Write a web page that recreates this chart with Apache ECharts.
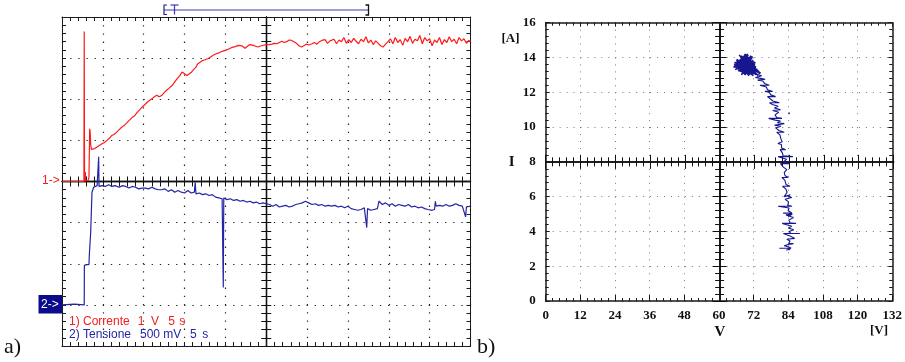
<!DOCTYPE html>
<html><head><meta charset="utf-8">
<script src="https://cdn.jsdelivr.net/npm/echarts@6/dist/echarts.min.js"></script>
<style>html,body{margin:0;padding:0;background:#fff}#c{width:905px;height:362px}</style>
</head><body><div id="c"></div><script>
// ---------- DATA ----------
// Channel 1 (Corrente), [time s, volts]  (1 V/div, 5 s/div)
const redTrace = [[0,0],[2.68,0],[2.72,3.65],[2.76,0],[2.8,0.05],[2.85,0.23],[2.9,0.02],[3.2,0.02],[3.3,0.1],[3.39,1.28],[3.45,1.2],[3.51,0.9],[3.6,0.78],[3.76,0.75],
[4.0,0.8],[4.3,0.84],[4.6,0.88],[4.9,0.92],[5.2,0.95],[5.5,1.0],[5.8,1.05],[6.1,1.12],[6.4,1.15],[6.7,1.2],[7.0,1.26],[7.3,1.32],[7.6,1.36],[7.9,1.42],[8.2,1.48],[8.6,1.56],[8.9,1.6],[9.2,1.68],[9.5,1.74],[9.8,1.81],[10.1,1.86],[10.4,1.92],[10.7,1.97],[11.0,2.01],[11.3,2.06],[11.6,2.1],[11.9,2.06],[12.2,2.09],[12.5,2.16],[12.8,2.22],[13.1,2.27],[13.5,2.34],[13.8,2.42],[14.1,2.5],[14.4,2.57],[14.7,2.66],[15.0,2.62],[15.3,2.58],[15.5,2.57],[15.8,2.65],[16.1,2.72],[16.4,2.78],[16.6,2.86],[16.9,2.9],[17.2,2.94],[17.5,2.96],[17.9,2.99],[18.2,3.03],[18.5,3.07],[18.8,3.1],[19.1,3.12],[19.4,3.15],[19.7,3.17],[20.0,3.19],[20.4,3.22],[20.8,3.26],[21.2,3.28],[21.6,3.31],[22.0,3.3],[22.4,3.24],[22.7,3.29],[23.0,3.33],[23.4,3.31],[23.7,3.29],[24.0,3.27],[24.4,3.3],[24.8,3.32],[25.3,3.33],[25.7,3.34],[26.0,3.36],[26.3,3.35],[26.6,3.38],[26.9,3.41],[27.2,3.38],[27.5,3.4],[27.8,3.44],[28.1,3.43],[28.4,3.4],[28.7,3.36],[29.0,3.3],[29.3,3.27],[29.6,3.3],[29.9,3.34],[30.2,3.32],[30.6,3.35],[30.9,3.38],[31.2,3.34],[31.5,3.4],[31.8,3.43],[32.2,3.45],[32.5,3.36],[32.8,3.42],[33.0,3.39],[33.3,3.46],[33.6,3.35],[33.9,3.44],[34.2,3.4],[34.5,3.5],[34.8,3.36],[35.1,3.45],[35.4,3.38],[35.7,3.48],[36.0,3.41],[36.3,3.35],[36.6,3.46],[36.9,3.4],[37.2,3.52],[37.5,3.37],[37.8,3.44],[38.1,3.33],[38.4,3.42],[38.7,3.36],[39.0,3.3],[39.3,3.27],[39.6,3.34],[39.9,3.4],[40.2,3.47],[40.5,3.35],[40.8,3.5],[41.1,3.38],[41.4,3.45],[41.7,3.31],[42.0,3.48],[42.3,3.4],[42.6,3.53],[42.9,3.36],[43.2,3.46],[43.5,3.42],[43.8,3.55],[44.1,3.35],[44.4,3.5],[44.7,3.42],[45.0,3.47],[45.3,3.3],[45.6,3.44],[45.9,3.38],[46.2,3.5],[46.5,3.33],[46.8,3.45],[47.1,3.38],[47.4,3.52],[47.7,3.4],[48.0,3.46],[48.3,3.35],[48.6,3.5],[48.9,3.42],[49.2,3.47],[49.5,3.36],[49.8,3.43],[50,3.4]];

// Channel 2 (Tensione), [time s, volts]  (500 mV/div, 5 s/div)
const blueTrace = [[0,0],[1.5,0.01],[2.72,0],[2.74,0.48],[3.0,0.49],[3.3,0.49],[3.34,0.6],[3.51,0.88],[3.67,1.37],[3.88,1.43],[4.1,1.44],[4.3,1.45],[4.45,1.44],[4.49,1.8],[4.53,1.44],[4.9,1.45],[5.3,1.44],[5.7,1.46],[6.1,1.44],[6.5,1.45],[7.0,1.43],[7.4,1.45],[7.8,1.44],[8.2,1.42],[8.6,1.44],[9.0,1.43],[9.4,1.41],[9.8,1.42],[10.2,1.42],[10.6,1.41],[11.0,1.43],[11.4,1.41],[11.8,1.4],[12.2,1.4],[12.6,1.41],[13.0,1.38],[13.4,1.4],[13.8,1.37],[14.2,1.39],[14.6,1.37],[15.0,1.36],[15.4,1.39],[15.8,1.36],[16.2,1.37],[16.3,1.49],[16.4,1.35],[16.8,1.36],[17.2,1.34],[17.6,1.35],[18.0,1.33],[18.4,1.34],[18.8,1.31],[19.2,1.3],[19.6,1.29],[19.74,0.21],[19.8,1.3],[20.2,1.28],[20.6,1.29],[21.0,1.27],[21.4,1.28],[21.8,1.26],[22.2,1.27],[22.6,1.25],[23.0,1.26],[23.4,1.24],[23.8,1.25],[24.2,1.23],[24.6,1.24],[25.0,1.23],[25.4,1.22],[25.8,1.2],[26.2,1.22],[26.6,1.19],[27.0,1.2],[27.4,1.21],[27.8,1.19],[28.2,1.2],[28.6,1.22],[29.0,1.23],[29.4,1.24],[29.8,1.26],[30.2,1.24],[30.6,1.22],[31.0,1.23],[31.4,1.21],[31.8,1.22],[32.2,1.2],[32.6,1.21],[33.0,1.2],[33.4,1.21],[33.8,1.19],[34.2,1.2],[34.6,1.18],[35.0,1.2],[35.4,1.17],[35.8,1.16],[36.2,1.15],[36.6,1.16],[37.0,1.18],[37.3,0.94],[37.4,1.17],[37.8,1.15],[38.2,1.16],[38.6,1.17],[38.8,1.26],[39.2,1.22],[39.6,1.24],[40.0,1.21],[40.4,1.23],[40.8,1.2],[41.2,1.22],[41.6,1.21],[42.0,1.2],[42.4,1.22],[42.8,1.19],[43.2,1.2],[43.6,1.18],[44.0,1.19],[44.4,1.17],[44.8,1.16],[45.3,1.15],[45.6,1.16],[45.7,1.26],[45.8,1.2],[46.2,1.21],[46.6,1.2],[47.0,1.22],[47.4,1.2],[47.8,1.21],[48.2,1.23],[48.6,1.21],[49.0,1.2],[49.4,1.07],[49.5,1.19],[50,1.2]];

// XY plot (b): [V, I] -- rising branch
const xyRise = [[83.3,2.93],[84.6,2.97],[83.8,3.03],[80.9,3.03],[85.0,3.03],[84.2,3.1],[82.6,3.18],[83.9,3.25],[85.8,3.3],[84.1,3.3],[84.6,3.45],[83.5,3.55],[86.2,3.6],[84.8,3.72],[82.3,3.88],[88.0,3.88],[84.9,3.88],[84.3,4.0],[85.9,4.1],[84.0,4.2],[85.2,4.3],[81.9,4.46],[86.7,4.46],[84.6,4.5],[84.2,4.65],[85.8,4.8],[83.2,4.95],[85.4,5.0],[84.0,4.85],[84.6,5.05],[82.2,5.05],[85.3,5.05],[83.9,5.2],[84.3,5.35],[80.5,5.45],[85.3,5.45],[83.8,5.5],[84.1,5.7],[82.9,5.85],[85.2,5.95],[83.5,6.05],[84.7,6.1],[82.6,6.0],[83.6,6.25],[83.1,6.45],[82.0,6.6],[84.6,6.6],[83.2,6.7],[82.8,6.95],[81.8,7.1],[84.0,7.1],[82.9,7.2],[82.6,7.4],[83.5,7.55],[82.3,7.7],[81.3,7.9],[84.5,7.9],[82.4,8.0],[83.4,8.15],[81.4,8.25],[80.5,8.3],[85.6,8.3],[82.2,8.35],[82.0,8.5],[81.2,8.7],[83.1,8.7],[81.7,8.8],[81.6,9.0],[80.4,9.05],[81.9,9.15],[81.4,9.35],[81.1,9.55],[80.0,9.7],[82.6,9.7],[80.8,9.8],[79.6,9.95],[81.5,10.05],[79.2,10.1],[78.6,10.2],[82.6,10.2],[80.2,10.25],[81.3,10.35],[79.5,10.4],[77.2,10.5],[81.8,10.5],[80.0,10.55],[79.4,10.7],[80.7,10.85],[78.6,10.95],[78.0,11.0],[81.3,11.0],[79.2,11.1],[80.5,11.2],[78.5,11.3],[77.5,11.4],[80.9,11.4],[78.7,11.5],[78.2,11.6],[76.8,11.75],[79.6,11.75],[77.9,11.85],[77.4,12.0],[75.9,12.05],[78.6,12.05],[76.8,12.15],[76.4,12.3],[74.2,12.4],[77.4,12.4],[75.8,12.5],[75.2,12.65],[73.4,12.7],[76.0,12.75],[74.4,12.8],[72.6,12.85],[74.8,12.95]];
// XY plot (b): [V, I] -- final operating cluster
const xyCluster = [[71.5,13.1],[68.2,13.7],[70.9,13.4],[66.0,13.5],[69.5,13.9],[67.3,13.2],[72.4,13.6],[68.8,14.1],[70.2,13.3],[65.2,13.6],[69.0,13.45],[71.8,13.85],[67.8,13.0],[70.5,14.0],[66.6,13.75],[73.3,13.3],[69.7,13.6],[67.0,14.15],[71.0,13.2],[68.4,13.5],[65.6,13.3],[70.0,13.75],[72.8,13.0],[68.9,13.95],[66.9,13.4],[71.3,13.55],[69.3,13.15],[67.6,13.85],[73.8,13.2],[70.7,13.65],[66.3,13.6],[69.9,14.2],[68.1,13.3],[72.1,13.45],[67.2,13.65],[70.4,12.95],[68.6,13.8],[65.0,13.45],[71.6,14.05],[69.2,13.35],[67.5,13.55],[72.6,13.7],[68.0,14.0],[70.8,13.05],[66.7,13.25],[69.6,13.7],[74.4,13.1],[71.2,13.4],[67.9,13.65],[70.1,13.5],[68.5,13.1],[66.1,13.85],[69.8,13.25],[72.2,13.3],[68.7,13.6],[70.6,13.8],[67.4,13.45],[71.9,12.95],[69.4,13.55],[66.8,13.7],[70.3,13.35],[68.3,13.9],[71.4,13.7],[69.1,13.0],[67.1,13.35],[70.9,13.6],[68.9,13.5],
[73.0,13.05],[69.8,13.75],[72.3,13.3],[67.2,13.9],[70.6,13.15],[66.1,13.55],[69.4,14.05],[71.9,13.55],[68.0,13.25],[70.9,13.9],[65.4,13.7],[68.7,13.45],[72.8,13.45],[67.7,14.1],[69.9,13.3],[66.5,13.35],[71.2,13.75],[68.3,13.85],[73.6,12.95],[70.2,13.55],[67.0,13.6],[69.1,14.2],[71.5,13.2],[66.2,13.9],[68.9,13.05],[70.4,13.95],[67.9,13.55],[72.0,13.65],[65.1,13.45],[69.6,13.4],[71.1,14.1],[67.4,13.3],[70.0,13.65],[68.5,13.95],[73.2,13.25],[69.2,13.15],[66.8,13.8],[71.7,13.4],[68.1,13.65],[70.7,13.3],[67.6,14.0],[69.7,13.85],[72.5,13.1],[66.4,13.45],[70.3,13.7],[68.6,13.3],[71.3,13.95],[67.3,13.5],[69.0,13.75],[74.3,13.05],[70.8,13.45],[68.2,14.05],[66.9,13.65],[69.5,13.2],[71.6,13.6],[67.8,13.8],[70.1,14.15],[68.4,13.4],[72.2,13.5],[69.3,13.6],[66.0,13.7],[70.5,13.25],[68.8,13.7],[71.0,13.5],[67.5,13.4],[69.9,13.95],[72.7,13.35],[68.0,13.6],[70.6,13.8],[69.4,13.35],[67.1,13.75],[71.4,13.25],[68.7,13.55],[70.2,13.4],[69.0,13.65]];
const xyStray = [[84.3,10.8]];

const xyXTickLabels = ['0','12','24','36','48','60','72','84','108','120','132'];
const xyYTickLabels = ['0','2','4','6','8','10','12','14','16'];
const legendCh1 = ['1) Corrente', '1  V', '5', 's'];
const legendCh2 = ['2) Tensione', '500 mV', '5', 's'];

// ---------- LAYOUT ----------
const LP = {left:62, top:17, width:408.5, height:329};
const RP = {left:545.7, top:22.7, width:347.8, height:278.3};
function halves(P){return [
  {left:P.left, top:P.top, width:P.width, height:P.height/2},
  {left:P.left, top:P.top+P.height/2, width:P.width, height:P.height/2},
  {left:P.left, top:P.top, width:P.width/2, height:P.height},
  {left:P.left+P.width/2, top:P.top, width:P.width/2, height:P.height}];}
const grids = [LP].concat(halves(LP)).concat([RP]).concat(halves(RP));

function tickAxis(o, col, w, tl, ml){
  return Object.assign({type:'value', axisLabel:{show:false}, splitLine:{show:false},
    axisLine:{show:true, onZero:false, lineStyle:{color:col, width:w}},
    axisTick:{show:true, inside:true, length:tl, lineStyle:{color:col, width:1}},
    minorTick:{show:true, splitNumber:5, length:ml, lineStyle:{color:col, width:1}}}, o);
}
function hidden(g){return {type:'value', gridIndex:g, show:false, min:0, max:1};}

const LC = '#1c1c1c', RC = '#1a1a1a';
const dotL = {show:true, lineStyle:{color:'#222', width:1.2, type:[1.3,6.9]}};
const dotLy = {show:true, lineStyle:{color:'#222', width:1.2, type:[1.3,6.85]}};
const dotR = {show:true, lineStyle:{color:'#777', width:1, type:[1,5.96]}};
const serif = {fontFamily:'Liberation Serif', fontWeight:'bold', fontSize:13, color:'#111'};

const xAxes = [
  tickAxis({gridIndex:0, position:'bottom', min:0, max:50, interval:5, splitLine:dotL}, LC, 1, 4, 4),
  tickAxis({gridIndex:0, position:'top', min:0, max:50, interval:5}, LC, 1, 4, 4),
  tickAxis({gridIndex:1, position:'bottom', min:0, max:50, interval:5}, '#111', 1.3, 5, 5),
  tickAxis({gridIndex:2, position:'top', min:0, max:50, interval:5}, '#111', 1.3, 5, 5),
  hidden(3), hidden(4),
  tickAxis({gridIndex:5, position:'bottom', min:0, max:120, interval:12, splitLine:dotR,
    axisLabel:Object.assign({show:true, margin:8, showMinLabel:true, showMaxLabel:true,
      formatter:v=>xyXTickLabels[Math.round(v/12)]}, serif)}, RC, 1.5, 6, 3),
  tickAxis({gridIndex:5, position:'top', min:0, max:120, interval:12}, RC, 1.5, 4, 3),
  tickAxis({gridIndex:6, position:'bottom', min:0, max:120, interval:12}, '#111', 1.6, 7, 4.5),
  tickAxis({gridIndex:7, position:'top', min:0, max:120, interval:12}, '#111', 1.6, 7, 4.5),
  hidden(8), hidden(9)
];
const yAxes = [
  tickAxis({gridIndex:0, position:'left', min:-4, max:4, interval:1, splitLine:dotLy}, LC, 1, 4, 4),
  tickAxis({gridIndex:0, position:'right', min:-0.5, max:3.5, interval:0.5}, LC, 1, 4, 4),
  hidden(1), hidden(2),
  tickAxis({gridIndex:3, position:'right', min:0, max:8, interval:1}, '#111', 1.3, 5, 5),
  tickAxis({gridIndex:4, position:'left', min:0, max:8, interval:1}, '#111', 1.3, 5, 5),
  tickAxis({gridIndex:5, position:'left', min:0, max:16, interval:2, splitLine:dotR,
    axisLabel:Object.assign({show:true, margin:10, showMinLabel:true, showMaxLabel:true,
      formatter:v=>xyYTickLabels[Math.round(v/2)]}, serif)}, RC, 1.5, 4, 3),
  tickAxis({gridIndex:5, position:'right', min:0, max:16, interval:2}, RC, 1.5, 4, 3),
  hidden(6), hidden(7),
  tickAxis({gridIndex:8, position:'right', min:0, max:16, interval:2}, '#111', 1.6, 7, 4.5),
  tickAxis({gridIndex:9, position:'left', min:0, max:16, interval:2}, '#111', 1.6, 7, 4.5)
];

function txt(text, x, y, font, fill, align, extra){
  return Object.assign({type:'text', x:x, y:y, z:100, style:{text:text, font:font, fill:fill,
    textAlign:align||'left', align:align||'left', textVerticalAlign:'middle', verticalAlign:'middle'}}, extra||{});
}
const sans12 = '12px "Liberation Sans", Arial, sans-serif';
const RED = '#f01e1e', BLUE = '#2424a6';
const graphics = [
  // T bracket
  {type:'line', z:100, shape:{x1:164, y1:10, x2:368, y2:10}, style:{stroke:'#3a3ab4', lineWidth:1}},
  {type:'polyline', z:100, shape:{points:[[167,5],[164,5],[164,14.5],[167,14.5]]}, style:{stroke:'#22228a', lineWidth:1.2, fill:null}},
  {type:'line', z:100, shape:{x1:170.5, y1:5, x2:178.5, y2:5}, style:{stroke:'#3a3ab4', lineWidth:1.2}},
  {type:'line', z:100, shape:{x1:174.5, y1:5, x2:174.5, y2:14.5}, style:{stroke:'#3a3ab4', lineWidth:1.2}},
  {type:'polyline', z:100, shape:{points:[[365.5,5],[368.5,5],[368.5,15],[365.5,15]]}, style:{stroke:'#111', lineWidth:1.3, fill:null}},
  // channel markers
  txt('1->', 42, 181, sans12, RED),
  {type:'rect', z:99, shape:{x:38.5, y:295, width:23.5, height:18.5}, style:{fill:'#0b0b8c'}},
  txt('2->', 41, 304.5, sans12, '#ffffff'),
  // legend inside scope
  txt(legendCh1[0], 69, 322, sans12, RED), txt(legendCh1[1], 137.7, 322, sans12, RED),
  txt(legendCh1[2], 168.3, 322, sans12, RED), txt(legendCh1[3], 179.3, 322, sans12, RED),
  txt(legendCh2[0], 69, 335, sans12, BLUE), txt(legendCh2[1], 140, 335, sans12, BLUE),
  txt(legendCh2[2], 190, 335, sans12, BLUE), txt(legendCh2[3], 202.3, 335, sans12, BLUE),
  // panel labels
  txt('a)', 4, 347, '22px "Liberation Serif", serif', '#111'),
  txt('b)', 477, 347, '22px "Liberation Serif", serif', '#111'),
  // XY axis titles
  txt('[A]', 510.5, 39, 'bold 13px "Liberation Serif", serif', '#111', 'center'),
  txt('I', 511.7, 162, 'bold 15px "Liberation Serif", serif', '#111', 'center'),
  txt('V', 720, 332, 'bold 15px "Liberation Serif", serif', '#111', 'center'),
  txt('[V]', 879, 331, 'bold 13px "Liberation Serif", serif', '#111', 'center')
];

const chart = echarts.init(document.getElementById('c'), null, {renderer:'canvas', width:905, height:362});
const XYC = '#161690';
chart.setOption({
  animation:false,
  backgroundColor:'#ffffff',
  grid: grids,
  xAxis: xAxes,
  yAxis: yAxes,
  graphic: graphics,
  series: [
    {type:'line', name:'Tensione', xAxisIndex:0, yAxisIndex:1, data:blueTrace, showSymbol:false, symbol:'none', z:5,
      lineStyle:{color:BLUE, width:1.2}},
    {type:'line', name:'Corrente', xAxisIndex:0, yAxisIndex:0, data:redTrace, showSymbol:false, symbol:'none', z:6,
      lineStyle:{color:'#ff1a1a', width:1.2}},
    {type:'line', name:'I-V rise', xAxisIndex:6, yAxisIndex:6, data:xyRise.concat(xyCluster.slice(0,1)), showSymbol:false, symbol:'none', z:6,
      lineStyle:{color:XYC, width:1.1}},
    {type:'line', name:'I-V cluster', xAxisIndex:6, yAxisIndex:6, data:xyCluster, showSymbol:false, symbol:'none', z:6,
      lineStyle:{color:XYC, width:1.4}},
    {type:'scatter', xAxisIndex:6, yAxisIndex:6, data:xyStray, symbolSize:2, z:6, itemStyle:{color:XYC}}
  ]
});
</script></body></html>
